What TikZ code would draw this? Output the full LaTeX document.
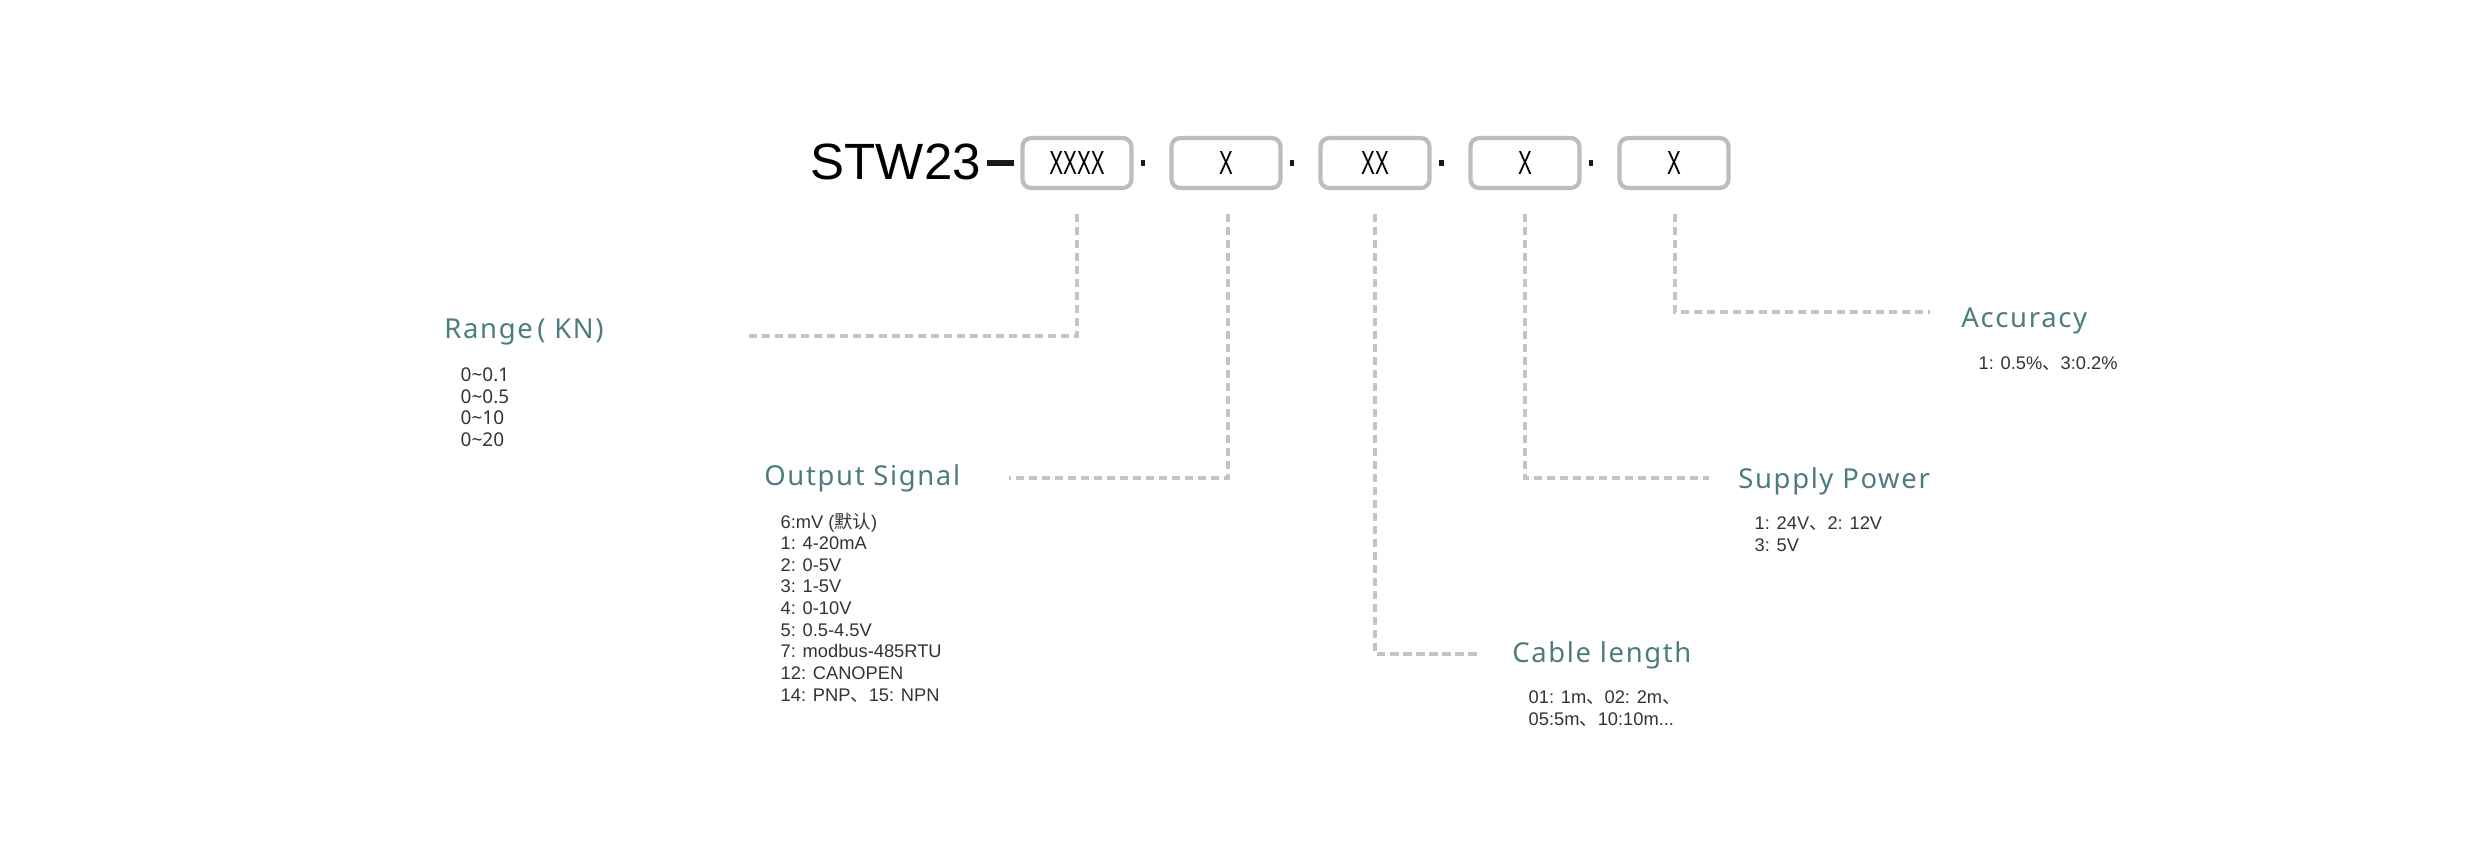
\documentclass[tikz,border=0pt]{standalone}
\usepackage{fontspec}
\setmainfont{Liberation Sans}
\newfontfamily\tfont[LetterSpace=6]{Noto Sans}
\newfontfamily\nfont{Noto Sans}
\newfontfamily\cjk{Noto Sans CJK SC}
\definecolor{teal1}{HTML}{4D7C7E}
\definecolor{boxg}{HTML}{BDBDBD}
\definecolor{dashg}{HTML}{C4C4C4}
\definecolor{txt}{HTML}{333333}
\begin{document}
\begin{tikzpicture}[x=0.01cm,y=-0.01cm,
  cbox/.style={draw=boxg,line width=1.2pt,rounded corners=2pt,minimum width=109\pgflinewidth,inner sep=0pt},
  codebox/.style={draw=boxg,line width=1.2pt,rounded corners=2.5pt,minimum width=1.09cm,minimum height=0.5cm,inner sep=0pt,font=\fontsize{9.5}{10}\selectfont\color{black}},
  lead/.style={draw=dashg,line width=0.9pt,dash pattern=on 2.3pt off 1.4pt},
  ttl/.style={anchor=west,text=teal1,font=\tfont\fontsize{7.8}{9}\selectfont},
  items/.style={anchor=north west,align=left,text=txt,font=\fontsize{5.2}{6.15}\selectfont,inner sep=0pt},
  sep/.style={line width=1.5pt,draw=black!90}]
\useasboundingbox (0,0) rectangle (2481,859);
\node[anchor=west,inner sep=0pt,font=\fontsize{14.5}{16}\selectfont] (stw) at (810,162) {STW23};
\foreach \n/\x/\t in {b1/1077/XXXX,b2/1226/X,b3/1375/XX,b4/1525/X,b5/1674/X}
  \node[codebox] (\n) at (\x,163) {\scalebox{0.62}[1]{\t}};
\coordinate (s0a) at (987,163); \coordinate (s0b) at (1014,163);
\draw[sep] (s0a) -- (s0b);
\draw[sep] (b1.east) ++(7,0) coordinate (s1a) -- ([xshift=-7]b2.west);
\draw[sep] (b2.east) ++(7,0) -- ([xshift=-7]b3.west);
\draw[sep] (b3.east) ++(7,0) -- ([xshift=-7]b4.west);
\draw[sep] (b4.east) ++(7,0) -- ([xshift=-7]b5.west);
% leads
\coordinate (r1) at (748,336);
\coordinate (r2) at (1009,478);
\coordinate (r3) at (1479,654);
\coordinate (r4) at (1709,478);
\coordinate (r5) at (1930,312);
\draw[lead] (1077,214) |- (r1);
\draw[lead] (1228,214) |- (r2);
\draw[lead] (1375,214) |- (r3);
\draw[lead] (1525,214) |- (r4);
\draw[lead] (1675,214) |- (r5);
% titles
\node[ttl] (t1) at (432,332) {Range\,( KN)};
\node[ttl] (t2) at (752,478) {Output Signal};
\node[ttl] (t3) at (1500,655) {Cable length};
\node[ttl] (t4) at (1726,481) {Supply Power};
\node[ttl] (t5) at (1949,321) {Accuracy};
\node[items,font=\nfont\fontsize{5.4}{6.15}\selectfont] (i1) at (460,367) {0\textasciitilde0.1\\0\textasciitilde0.5\\0\textasciitilde10\\0\textasciitilde20};
\node[items] (i2) at (780,512) {6:mV ({\cjk 默认})\\1: 4-20mA\\2: 0-5V\\3: 1-5V\\4: 0-10V\\5: 0.5-4.5V\\7: modbus-485RTU\\12: CANOPEN\\14: PNP{\cjk 、}15: NPN};
\node[items] (i3) at (1528,690) {01: 1m{\cjk 、}02: 2m{\cjk 、}\\05:5m{\cjk 、}10:10m...};
\node[items] (i4) at (1754,516) {1: 24V{\cjk 、}2: 12V\\3: 5V};
\node[items] (i5) at (1978,356) {1: 0.5\%{\cjk 、}3:0.2\%};
\end{tikzpicture}
\end{document}
